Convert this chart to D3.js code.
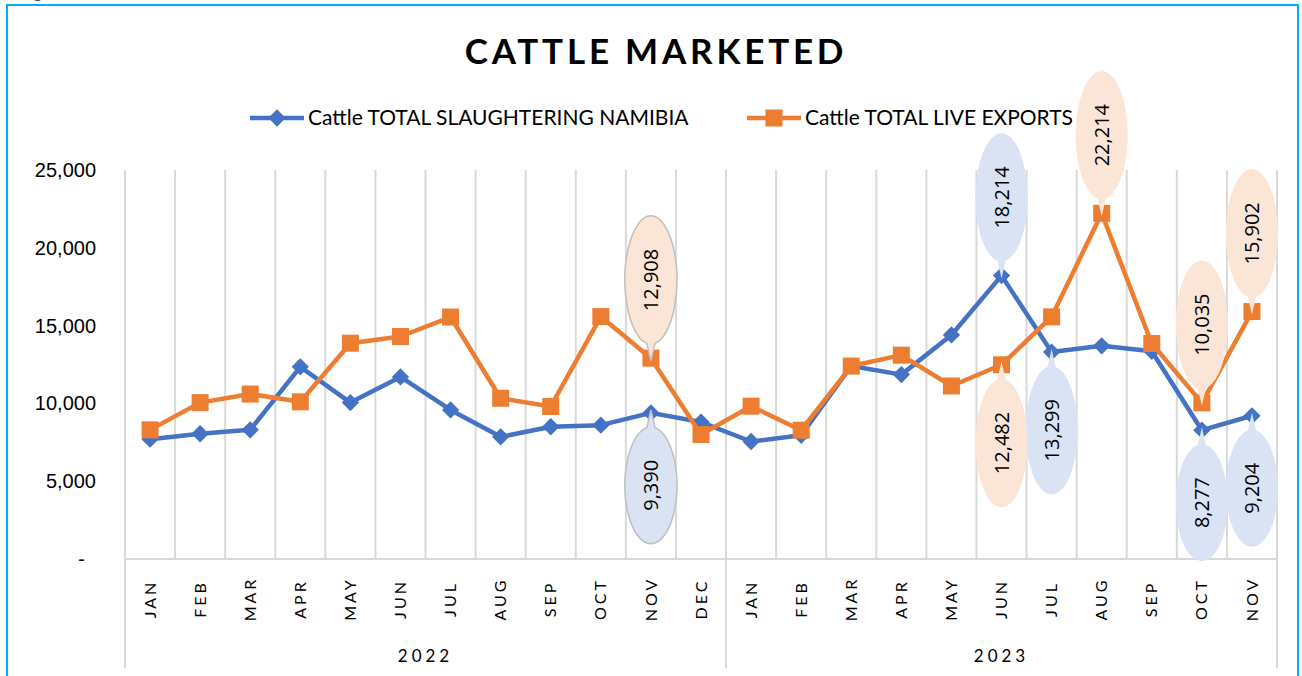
<!DOCTYPE html>
<html>
<head>
<meta charset="utf-8">
<script src="https://cdn.jsdelivr.net/npm/d3@7"></script>
<style>
  html, body { margin: 0; padding: 0; background: #fff; }
  svg { display: block; }
</style>
</head>
<body>
<svg id="chart" width="1302" height="676"></svg>
<script>
// ---------- data ----------
const years = ["2022", "2023"];
const months2022 = ["JAN","FEB","MAR","APR","MAY","JUN","JUL","AUG","SEP","OCT","NOV","DEC"];
const months2023 = ["JAN","FEB","MAR","APR","MAY","JUN","JUL","AUG","SEP","OCT","NOV"];
const categories = months2022.concat(months2023);

const seriesNames = ["Cattle TOTAL SLAUGHTERING NAMIBIA", "Cattle TOTAL LIVE EXPORTS"];
const slaughter = [7700, 8050, 8300, 12350, 10050, 11700, 9580, 7850, 8500, 8600, 9390, 8800,
                   7550, 7950, 12400, 11850, 14400, 18214, 13299, 13700, 13350, 8277, 9204];
const liveExports = [8300, 10050, 10600, 10100, 13870, 14300, 15550, 10330, 9800, 15580, 12908, 8000,
                     9820, 8280, 12400, 13100, 11120, 12482, 15560, 22214, 13850, 10035, 15902];

const yTicks = [0, 5000, 10000, 15000, 20000, 25000];

// labelled points: index into categories, side of the callout
const slaughterLabels = [{i: 10, side: "below"}, {i: 17, side: "above"}, {i: 18, side: "below"},
                         {i: 21, side: "below"}, {i: 22, side: "below"}];
const exportLabels = [{i: 10, side: "above"}, {i: 17, side: "below"}, {i: 19, side: "above"},
                      {i: 21, side: "above"}, {i: 22, side: "above"}];

// ---------- setup ----------
const svg = d3.select("#chart");
const blue = "#4472c4", orange = "#ed7d31";
const gridColor = "#d9d9d9";
const font = "Lato, 'Open Sans', sans-serif";

const plotLeft = 125, plotRight = 1277, plotTop = 170, plotBottom = 559;
const x = d3.scaleBand().domain(d3.range(categories.length)).range([plotLeft, plotRight]);
const y = d3.scaleLinear().domain([0, 25000]).range([plotBottom, plotTop]);
const cx = i => x(i) + x.bandwidth() / 2;

// outer frame
svg.append("rect").attr("x", 7).attr("y", 5).attr("width", 1291).attr("height", 720)
  .attr("fill", "#fff").attr("stroke", "#00b0f0").attr("stroke-width", 2);
svg.append("text").attr("x", 33).attr("y", -2).attr("font-family", font).attr("font-size", 18)
  .attr("fill", "#2f4f8f").text("g");

// title
svg.append("text").attr("x", 656).attr("y", 64).attr("text-anchor", "middle")
  .attr("font-family", font).attr("font-weight", "bold").attr("font-size", 35)
  .attr("letter-spacing", 3.8).attr("fill", "#000").text("CATTLE MARKETED");

// vertical gridlines at category boundaries
svg.append("g").selectAll("line").data(d3.range(categories.length + 1)).join("line")
  .attr("x1", i => i < categories.length ? x(i) : plotRight)
  .attr("x2", i => i < categories.length ? x(i) : plotRight)
  .attr("y1", plotTop).attr("y2", plotBottom)
  .attr("stroke", gridColor).attr("stroke-width", 2);

// y axis
const yAxis = svg.append("g").attr("transform", `translate(${plotLeft},0)`)
  .call(d3.axisLeft(y).tickValues(yTicks).tickSize(0).tickPadding(29)
    .tickFormat(d => d === 0 ? "-" : d3.format(",")(d)));
yAxis.select(".domain").remove();
yAxis.selectAll("text").attr("font-family", "'Liberation Sans', Arial, sans-serif")
  .attr("font-size", 20).attr("fill", "#000")
  .attr("dx", d => d === 0 ? -11 : 0);

// x axis
const xAxis = svg.append("g").attr("transform", `translate(0,${plotBottom})`)
  .call(d3.axisBottom(x).tickSize(0).tickFormat(i => categories[i]));
xAxis.select(".domain").attr("stroke", gridColor).attr("stroke-width", 2)
  .attr("d", `M${plotLeft},0H${plotRight}`);
xAxis.selectAll("text")
  .attr("y", 0).attr("dy", "0.35em")
  .attr("transform", "translate(0,40) rotate(-90)")
  .attr("text-anchor", "middle")
  .attr("font-family", font).attr("font-size", 16).attr("letter-spacing", 3).attr("fill", "#000");

// group separators and year labels
const groups = [{year: years[0], start: 0, end: months2022.length},
                {year: years[1], start: months2022.length, end: categories.length}];
const sepX = [plotLeft, x(months2022.length), plotRight];
svg.append("g").selectAll("line").data(sepX).join("line")
  .attr("x1", d => d).attr("x2", d => d).attr("y1", plotBottom).attr("y2", 668)
  .attr("stroke", gridColor).attr("stroke-width", 2);
svg.append("g").selectAll("text").data(groups).join("text")
  .attr("x", g => (x(g.start) + (g.end < categories.length ? x(g.end) : plotRight)) / 2)
  .attr("y", 662).attr("text-anchor", "middle")
  .attr("font-family", font).attr("font-size", 17).attr("letter-spacing", 4).attr("fill", "#000")
  .text(g => g.year);

// lines
const line = d3.line().x((d, i) => cx(i)).y(d => y(d));
const diamond = d3.symbol(d3.symbolSquare, 150);
const square = d3.symbol(d3.symbolSquare, 289);

function drawSeries(values, color, markerPath, rotate) {
  const g = svg.append("g");
  g.append("path").datum(values).attr("d", line).attr("fill", "none")
    .attr("stroke", color).attr("stroke-width", 4.5).attr("stroke-linejoin", "round");
  g.selectAll("path.m").data(values).join("path").attr("class", "m")
    .attr("d", markerPath)
    .attr("transform", (d, i) => `translate(${cx(i)},${y(d)}) rotate(${rotate})`)
    .attr("fill", color);
}
drawSeries(slaughter, blue, diamond, 45);
drawSeries(liveExports, orange, square, 0);

// legend
const legend = [{name: seriesNames[0], color: blue, x0: 250, marker: diamond, rot: 45},
                {name: seriesNames[1], color: orange, x0: 747, marker: square, rot: 0}];
const lg = svg.append("g").selectAll("g").data(legend).join("g");
lg.append("line").attr("x1", d => d.x0).attr("x2", d => d.x0 + 54).attr("y1", 118).attr("y2", 118)
  .attr("stroke", d => d.color).attr("stroke-width", 4.5);
lg.append("path").attr("d", d => d.marker())
  .attr("transform", d => `translate(${d.x0 + 27},118) rotate(${d.rot})`).attr("fill", d => d.color);
lg.append("text").attr("x", d => d.x0 + 58).attr("y", 118).attr("dy", "0.35em")
  .attr("font-family", font).attr("font-size", 21).attr("fill", "#000").text(d => d.name);

// callouts
function drawCallouts(values, labels, fill, stroke) {
  const g = svg.append("g");
  labels.forEach(l => {
    const px = cx(l.i), py = y(values[l.i]);
    const txt = g.append("text").attr("font-family", "'Open Sans', sans-serif").attr("font-size", 20)
      .attr("fill", "#000").attr("text-anchor", "middle").attr("dy", "0.35em")
      .text(d3.format(",")(values[l.i]));
    const tl = txt.node().getComputedTextLength();
    const rx = 26, ry = tl / 2 + 33;
    const dir = l.side === "above" ? -1 : 1;
    const cy = py + dir * (ry + 14);
    const th = 0.16;
    const ex = rx * Math.sin(th), ey = ry * Math.cos(th);
    const sx = px - ex, sy = cy - dir * ey;
    const exx = px + ex;
    const sweep = dir === -1 ? 1 : 0;
    const d = `M${sx},${sy} A${rx},${ry} 0 1 ${sweep} ${exx},${sy} L${px},${py - dir * 3} Z`;
    g.insert("path", "text").attr("d", d).attr("fill", fill)
      .attr("stroke", stroke || "none").attr("stroke-width", 1.5);
    txt.attr("transform", `translate(${px},${cy}) rotate(-90)`);
  });
}
drawCallouts(slaughter, slaughterLabels.filter(l => l.i === 10), "#dae3f3", "#bfbfbf");
drawCallouts(slaughter, slaughterLabels.filter(l => l.i !== 10), "#dae3f3", null);
drawCallouts(liveExports, exportLabels.filter(l => l.i === 10), "#fbe5d6", "#bfbfbf");
drawCallouts(liveExports, exportLabels.filter(l => l.i !== 10), "#fbe5d6", null);
</script>
</body>
</html>
